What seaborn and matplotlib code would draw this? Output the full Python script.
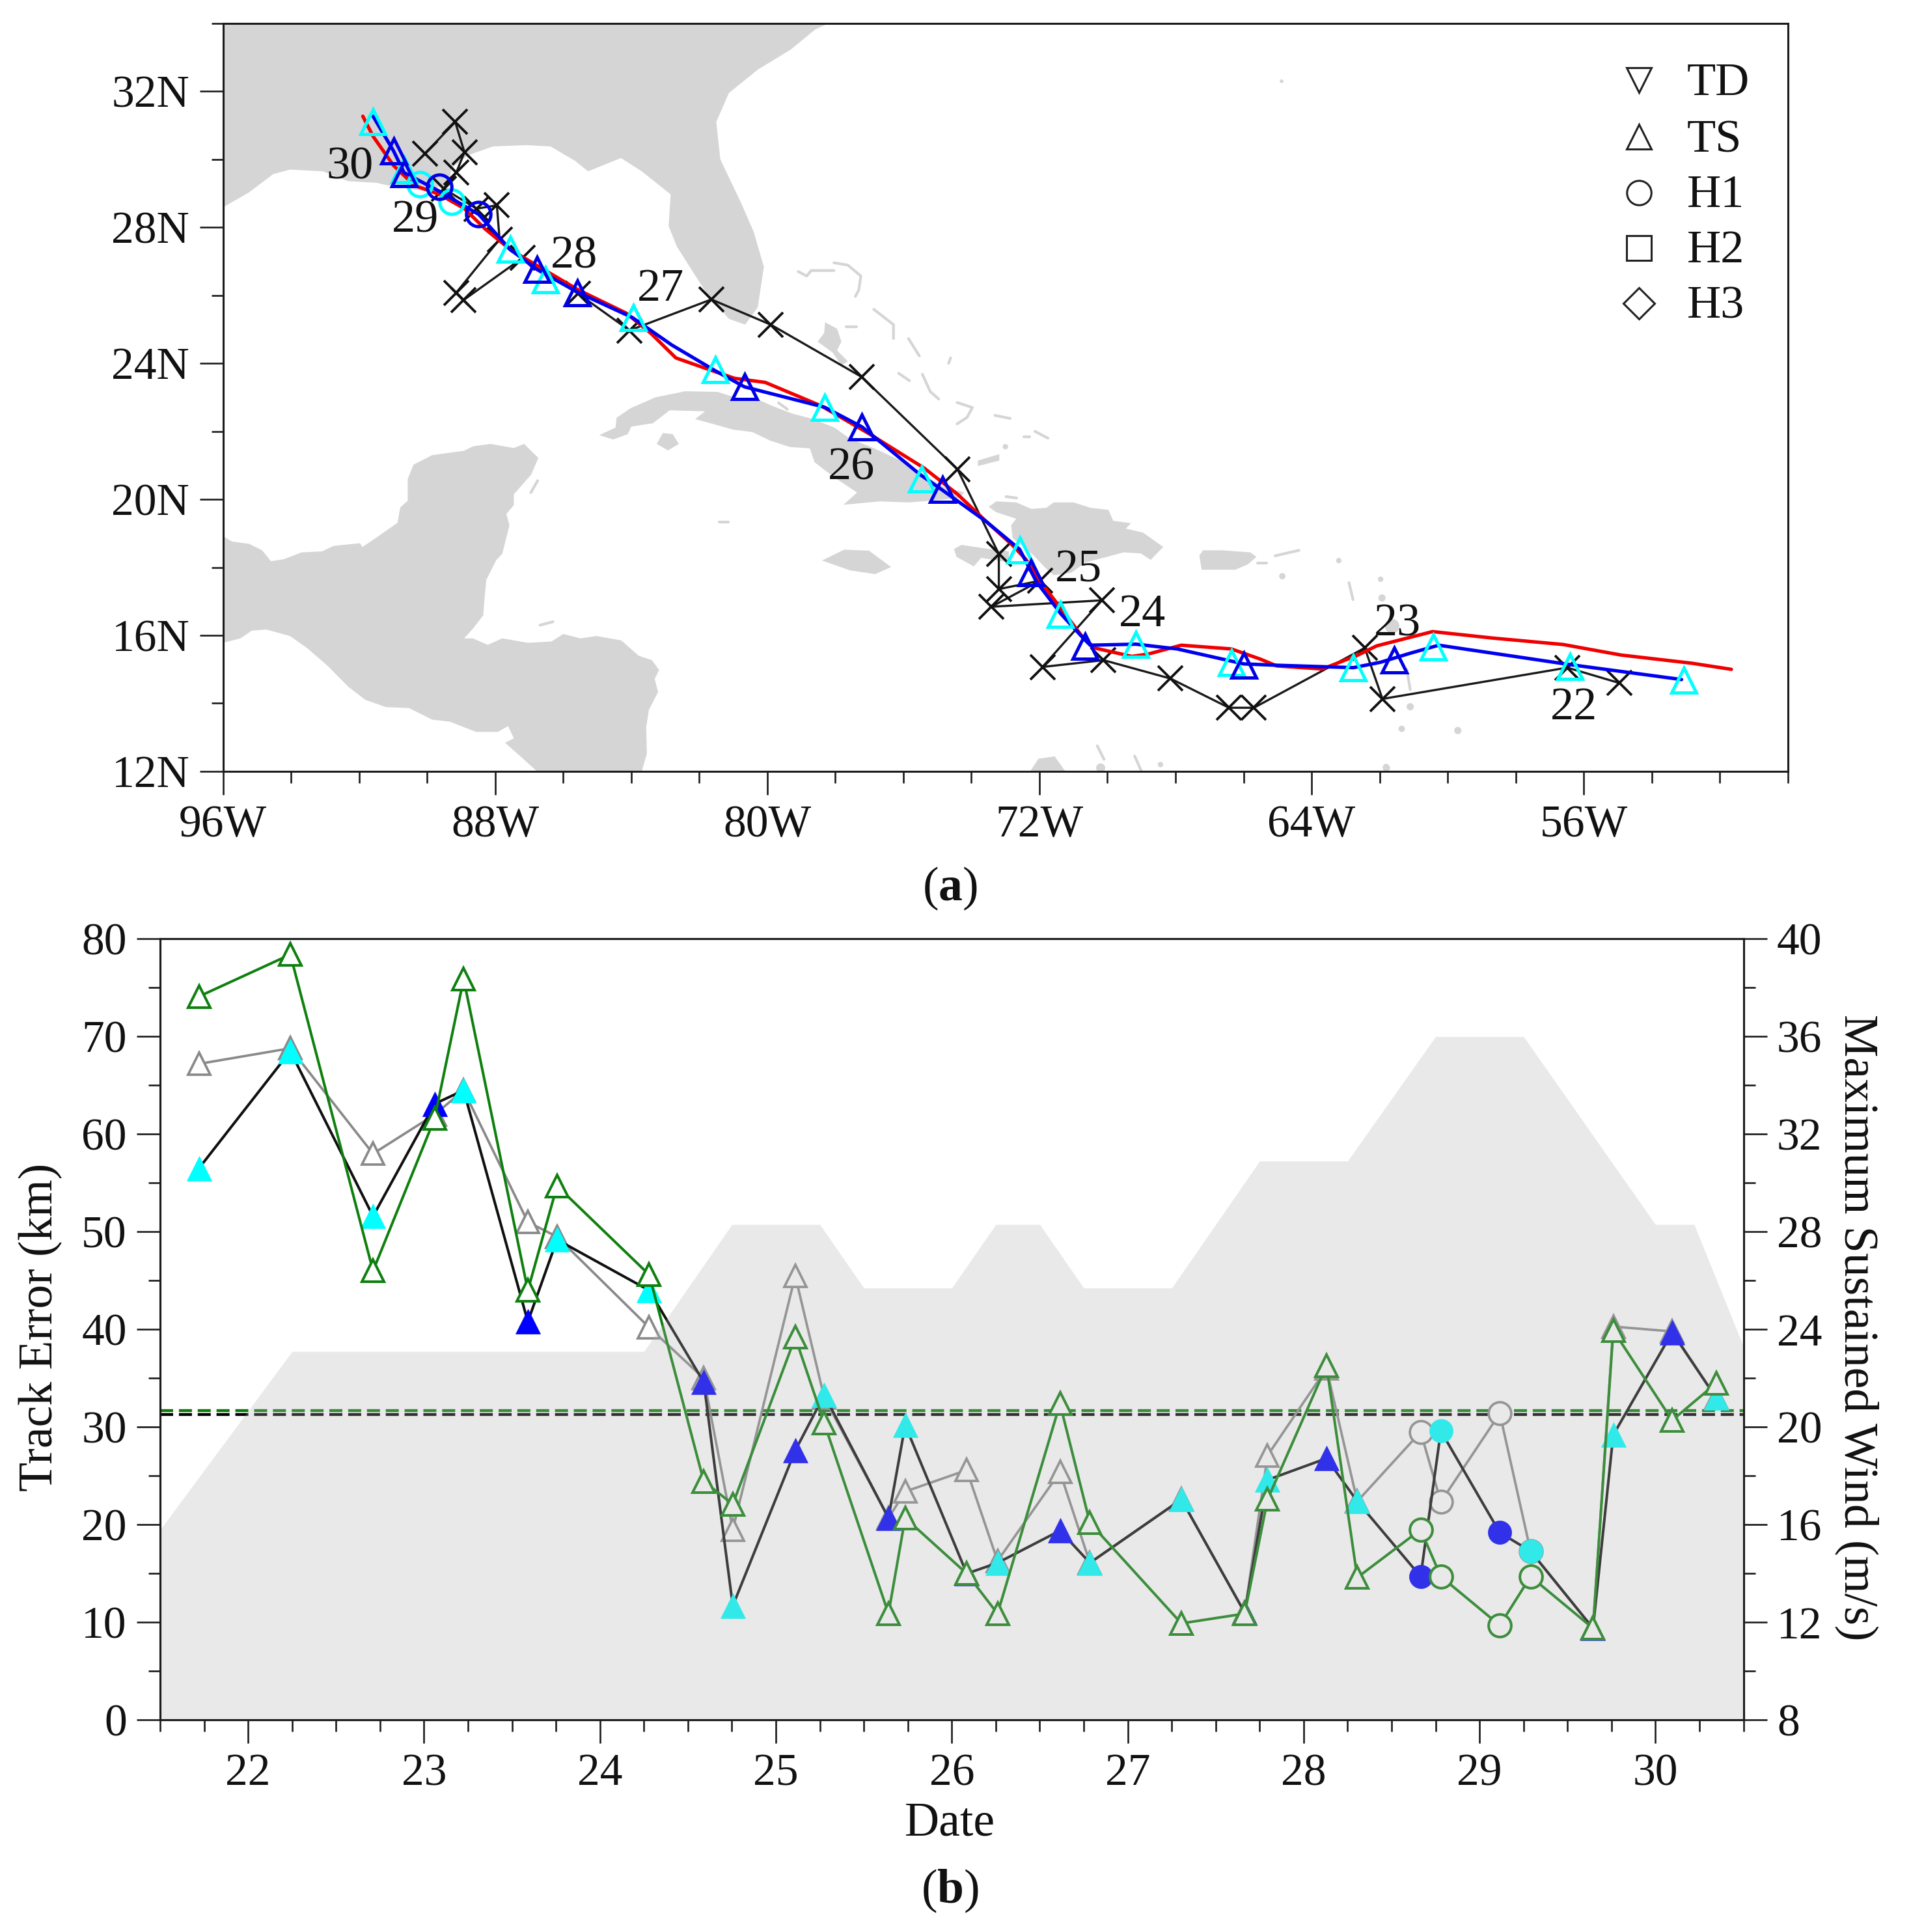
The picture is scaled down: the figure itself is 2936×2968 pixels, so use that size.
import numpy as np
import pandas as pd
import seaborn as sns
import matplotlib
matplotlib.use("Agg")
import matplotlib.pyplot as plt
from matplotlib.ticker import MultipleLocator, FixedLocator

sns.set_theme(style="ticks")
plt.rcParams["font.family"] = ["Liberation Serif", "DejaVu Serif"]
plt.rcParams["mathtext.fontset"] = "custom"
plt.rcParams["mathtext.rm"] = "Liberation Serif"
plt.rcParams["mathtext.bf"] = "Liberation Serif:bold"

# ---------- Panel (a): tracks (longitude in degrees west, latitude north) ----------
best_lon = [51.77, 52.93, 55.0, 56.7, 58.77, 60.53, 62.17, 62.72, 63.76, 65.1, 65.58, 66.43, 67.9, 68.87, 69.35,
            70.45, 70.8, 71.3, 72.03, 72.46, 72.88, 73.61, 74.46, 75.44, 77.02, 78.46, 80.1, 81.0, 81.87, 82.72,
            83.45, 84.18, 85.58, 86.73, 87.58, 88.31, 88.92, 89.65, 90.38, 91.0, 91.6, 91.9]
best_lat = [15.0, 15.18, 15.42, 15.73, 15.92, 16.11, 15.69, 15.42, 15.01, 15.1, 15.3, 15.6, 15.71, 15.45, 15.38,
            15.63, 15.96, 16.62, 17.58, 18.24, 18.68, 19.34, 20.15, 20.92, 21.91, 22.75, 23.44, 23.56, 23.86, 24.16,
            24.88, 25.48, 26.16, 26.84, 27.35, 27.95, 28.55, 28.97, 29.23, 29.82, 30.68, 31.27]
model_lon = [53.23, 56.58, 60.35, 61.2, 62.05, 62.85, 65.09, 66.07, 68.02, 69.23, 70.57, 70.75, 71.42, 72.15, 72.64,
             73.61, 74.93, 75.56, 77.26, 78.36, 80.71, 81.56, 82.84, 84.0, 85.58, 86.79, 87.58, 88.5, 89.65, 90.69,
             91.0, 91.6]
model_lat = [14.7, 15.15, 15.71, 15.47, 15.21, 15.05, 15.12, 15.16, 15.6, 15.74, 15.71, 15.89, 16.62, 17.58, 18.53,
             19.34, 20.29, 20.73, 22.13, 22.71, 23.31, 23.78, 24.54, 25.35, 26.08, 26.76, 27.35, 28.38, 29.06, 29.61,
             30.25, 31.27]
obs_lon = [55.06, 56.58, 62.0, 62.52, 65.77, 66.5, 68.22, 70.18, 71.97, 70.23, 73.47, 72.03, 73.25, 73.25, 74.46,
           77.27, 79.94, 81.68, 84.08, 85.6, 87.22, 88.95, 89.16, 87.89, 87.97, 88.56, 89.53, 89.16, 88.92, 89.19, 90.08]
obs_lat = [14.6, 15.05, 14.13, 15.63, 13.87, 13.87, 14.73, 15.27, 15.07, 17.03, 16.84, 17.61, 17.36, 18.39, 20.88,
           23.6, 25.14, 25.88, 24.97, 26.06, 27.1, 25.86, 26.08, 27.65, 28.65, 28.55, 29.14, 29.61, 30.21, 31.1, 30.17]

cyan_tri_lon = [53.17, 56.5, 60.51, 62.85, 66.43, 69.23, 71.45, 72.64, 75.52, 78.36, 81.56, 83.97, 86.55, 87.58, 90.69, 91.6]
cyan_tri_lat = [14.67, 15.08, 15.66, 15.05, 15.19, 15.74, 16.62, 18.5, 20.59, 22.71, 23.82, 25.35, 26.46, 27.35, 29.7, 31.1]
blue_tri_lon = [61.65, 66.07, 70.72, 72.31, 74.91, 77.26, 80.71, 85.61, 86.79, 90.69, 91.0]
blue_tri_lat = [15.27, 15.12, 15.67, 17.83, 20.29, 22.13, 23.31, 26.08, 26.76, 29.57, 30.25]
cyan_cir_lon = [89.29, 90.22]
cyan_cir_lat = [28.76, 29.27]
blue_cir_lon = [88.52, 89.65]
blue_cir_lat = [28.39, 29.19]

day_labels = ["22", "23", "24", "25", "26", "27", "28", "29", "30"]
day_lon = [56.28, 61.47, 68.97, 70.86, 77.52, 83.14, 85.67, 90.35, 92.27]
day_lat = [13.86, 16.32, 16.61, 17.91, 20.92, 26.18, 27.15, 28.2, 29.76]

legend_names = ["TD", "TS", "H1", "H2", "H3"]
legend_lat = [32.33, 30.66, 29.03, 27.4, 25.77]
legend_text_lat = [32.23, 30.56, 28.93, 27.3, 25.67]
legend_lon = 54.37
legend_text_lon = 52.96

# ---------- Land outlines (lon W, lat N) ----------
land_polys = [
    # North America
    ([96.0, 95.25, 94.52, 94.03, 93.06, 92.33, 91.48, 91.0, 90.0, 89.65, 89.4, 89.29, 88.8, 88.07, 87.1, 86.37, 85.64,
      85.27, 84.3, 83.69, 82.84, 82.9, 82.66, 82.23, 81.74, 81.13, 80.65, 80.28, 80.1, 80.4, 80.77, 81.38, 81.5, 81.13,
      80.28, 79.31, 78.58, 78.2, 96.0],
     [28.59, 29.02, 29.57, 29.7, 29.65, 29.36, 29.31, 29.2, 29.06, 29.2, 28.95, 29.74, 30.12, 30.38, 30.42, 30.38, 29.95,
      29.65, 30.04, 29.65, 28.97, 28.04, 27.44, 26.76, 26.0, 25.31, 25.14, 25.65, 26.84, 27.87, 28.72, 30.0, 31.1, 31.95,
      32.64, 33.23, 33.83, 34.0, 34.0]),
    # Mexico and Central America
    ([96.0, 95.74, 95.23, 94.85, 94.59, 94.21, 93.69, 93.09, 92.75, 91.98, 91.9, 91.47, 90.87, 90.79, 90.57, 90.57, 90.4,
      89.85, 88.91, 88.65, 88.14, 87.45, 87.15, 86.73, 86.94, 87.45, 87.45, 87.67, 87.58, 87.79, 87.97, 88.26, 88.31,
      88.35, 88.65, 88.91, 88.65, 88.22, 87.79, 87.03, 86.34, 86.0, 85.49, 85.02, 84.29, 83.78, 83.39, 83.18, 83.31,
      83.21, 83.48, 83.56, 83.54, 83.69, 86.77, 87.2, 87.71, 87.45, 87.62, 87.92, 88.56, 89.33, 89.85, 90.53, 91.21,
      91.81, 92.32, 92.92, 93.52, 94.03, 94.72, 95.15, 95.49, 96.0],
     [18.92, 18.76, 18.69, 18.5, 18.18, 18.24, 18.44, 18.47, 18.63, 18.71, 18.6, 18.89, 19.31, 19.76, 19.96, 20.6, 21.02,
      21.3, 21.43, 21.56, 21.63, 21.51, 21.63, 21.22, 20.73, 20.15, 19.83, 19.57, 19.24, 18.4, 18.21, 17.63, 17.11,
      16.59, 16.2, 15.91, 15.91, 15.72, 15.91, 15.78, 15.82, 16.04, 15.91, 15.98, 15.85, 15.4, 15.27, 14.98, 14.72,
      14.33, 13.81, 13.29, 12.52, 12.0, 12.0, 12.39, 12.84, 12.97, 13.33, 13.16, 13.16, 13.46, 13.52, 13.86, 13.89,
      14.1, 14.49, 15.1, 15.62, 15.98, 16.17, 16.14, 15.91, 15.78]),
    # Cuba
    ([84.94, 84.46, 84.43, 84.02, 83.29, 82.41, 81.46, 80.95, 80.22, 79.78, 79.26, 78.68, 78.02, 77.58, 76.85, 76.1,
      75.46, 74.87, 74.21, 74.36, 75.09, 75.82, 76.7, 77.76, 77.36, 78.02, 78.61, 78.75, 79.34, 79.92, 80.44, 81.0,
      81.53, 82.12, 81.83, 82.87, 83.36, 84.0, 84.1, 84.53],
     [21.89, 22.11, 22.4, 22.68, 23.0, 23.18, 23.16, 23.0, 22.91, 22.72, 22.52, 22.37, 22.11, 21.79, 21.5, 21.15,
      20.77, 20.39, 20.2, 20.04, 19.97, 19.91, 19.94, 19.84, 20.2, 20.64, 21.09, 21.5, 21.54, 21.73, 21.98, 22.05,
      22.2, 22.36, 22.59, 22.62, 22.24, 22.14, 21.92, 21.76]),
    ([83.25, 83.07, 82.78, 82.6, 82.92], [21.63, 21.95, 21.92, 21.63, 21.44]),
    # Jamaica
    ([78.39, 77.74, 77.01, 76.36, 76.83, 77.56], [18.2, 18.52, 18.49, 18.01, 17.8, 17.91]),
    # Hispaniola
    ([73.49, 73.27, 72.68, 72.24, 71.8, 71.58, 71.0, 70.49, 69.97, 69.83, 69.31, 69.46, 68.95, 68.36, 68.73, 69.02,
      69.53, 70.12, 70.63, 71.07, 71.58, 71.8, 72.17, 72.46, 72.79, 72.83, 72.68, 73.27],
     [19.78, 19.94, 19.91, 19.72, 19.75, 19.91, 19.91, 19.75, 19.69, 19.37, 19.3, 19.14, 19.02, 18.6, 18.22, 18.41,
      18.44, 18.28, 18.15, 17.84, 17.77, 17.96, 18.35, 18.6, 18.86, 19.24, 19.43, 19.62]),
    ([74.51, 74.29, 73.49, 72.9, 72.9, 73.71, 73.93, 74.44], [18.54, 18.66, 18.54, 18.47, 18.15, 18.28, 18.03, 18.31]),
    # Puerto Rico
    ([67.3, 67.19, 66.6, 65.8, 65.62, 65.87, 66.24, 67.23], [18.35, 18.5, 18.5, 18.44, 18.31, 18.09, 17.93, 17.93]),
    # Andros, Inagua, Guajira
    ([78.3, 77.95, 77.82, 77.95, 77.63, 77.82, 78.08, 78.52, 78.33],
     [25.21, 25.02, 24.64, 24.38, 24.06, 23.94, 24.32, 24.64, 24.89]),
    ([73.81, 73.18, 73.18, 73.81], [21.14, 21.33, 21.14, 20.98]),
    ([72.27, 72.03, 71.55, 71.24], [12.0, 12.37, 12.44, 12.0]),
]
island_chains = [
    ([79.09, 78.84, 78.71, 78.04], [26.7, 26.57, 26.73, 26.73]),
    ([78.04, 77.63, 77.25, 77.31, 77.41], [26.96, 26.89, 26.57, 26.16, 25.97]),
    ([76.87, 76.29, 76.29], [25.59, 25.14, 24.73]),
    ([77.69, 77.38], [25.08, 25.08]),
    ([75.85, 75.53], [24.73, 24.22]),
    ([74.61, 74.67], [24.16, 24.0]),
    ([76.14, 75.82], [23.71, 23.49]),
    ([75.44, 75.21, 74.96], [23.68, 23.17, 22.95]),
    ([74.42, 73.97, 74.13, 74.42], [22.85, 22.7, 22.41, 22.22]),
    ([73.31, 72.86], [22.47, 22.38]),
    ([72.45, 72.29], [21.84, 21.84]),
    ([72.13, 71.75], [22.0, 21.8]),
    ([72.98, 72.67], [20.08, 20.04]),
    ([61.2, 61.1], [15.0, 14.4]),
    ([62.9, 62.78], [17.55, 17.05]),
    ([70.3, 70.1], [12.75, 12.35]),
    ([69.2, 69.0], [12.45, 12.0]),
    ([86.75, 86.95], [20.55, 20.2]),
    ([86.68, 86.3], [16.3, 16.4]),
    ([79.67, 79.41], [22.84, 22.65]),
    ([65.58, 65.32], [18.12, 18.12]),
    ([65.07, 64.37], [18.34, 18.5]),
    ([81.42, 81.15], [19.33, 19.33]),
]
dot_lon = [61.63, 61.1, 61.35, 59.7, 61.81, 61.97, 63.2, 64.86, 61.93, 70.2, 68.44, 61.8, 64.88, 73.0]
dot_lat = [16.27, 13.9, 13.25, 13.2, 12.13, 17.65, 18.2, 17.74, 17.1, 12.1, 12.2, 12.1, 32.3, 21.55]
dot_size = [16, 8, 7, 8, 7, 6, 6, 7, 8, 10, 6, 8, 4, 6]

# ---------- Panel (b) ----------
date = [21.72, 22.24, 22.71, 23.06, 23.225, 23.59, 23.756, 24.28, 24.59, 24.755, 25.11, 25.275, 25.64, 25.735, 26.085,
        26.26, 26.615, 26.785, 27.305, 27.665, 27.795, 28.13, 28.305, 28.665, 28.78, 29.115, 29.29, 29.645, 29.76, 30.095,
        30.345]
err_black = [56.5, 68.5, 51.6, 63.1, 64.5, 40.8, 49.2, 44.0, 34.6, 11.7, 27.6, 33.3, 20.7, 30.2, 15.0,
             16.1, 19.4, 16.1, 22.6, 11.0, 24.6, 26.8, 22.4, 14.7, 29.6, 19.2, 17.3, 9.4, 29.2, 39.7, 33.0]
err_gray = [67.2, 68.8, 58.0, 62.0, 64.5, 51.0, 49.5, 40.2, 35.0, 19.5, 45.5, 33.0, 20.7, 23.4, 25.6,
            16.3, 25.4, 16.1, 22.6, 11.0, 27.1, 36.0, 22.4, 29.5, 22.35, 31.4, 17.3, 9.4, 40.3, 39.8, 33.0]
err_green = [74.1, 78.4, 46.0, 61.6, 75.9, 44.0, 54.7, 45.6, 24.45, 22.1, 39.2, 30.4, 10.9, 20.7, 15.0,
             10.9, 32.4, 20.2, 9.9, 10.9, 22.6, 36.3, 14.6, 19.5, 14.7, 9.7, 14.7, 9.4, 39.9, 30.7, 34.5]
is_hurricane = [False] * 23 + [True] * 4 + [False] * 4
blue_index = [3, 5, 8, 10, 12, 14, 16, 19, 21, 23, 25, 27, 29]
mean_black, mean_green = 31.3, 31.7

wind_date = [21.5, 22.25, 24.25, 24.75, 25.25, 25.5, 26.0, 26.25, 26.5, 26.75, 27.25, 27.75, 28.25, 28.75, 29.25, 30.0,
             30.22, 30.5]
wind_ms = [15.8, 23.1, 23.1, 28.3, 28.3, 25.7, 25.7, 28.3, 28.3, 25.7, 25.7, 30.9, 30.9, 36.0, 36.0, 28.3, 28.3, 23.3]

W, H = 1551.0, 1568.0
fig = plt.figure(figsize=(29.36, 29.68), dpi=100, facecolor="white")
ax_a = fig.add_axes([181 / W, 1 - 626 / H, 1270 / W, 607 / H])
ax_b = fig.add_axes([130 / W, 1 - 1396 / H, 1285 / W, 634 / H])
INK = "#1c1c1c"
TICK = 50
LABEL = 53


def line(ax, x, y, color, lw, z=2, **kw):
    d = pd.DataFrame({"x": x, "y": y})
    sns.lineplot(data=d, x="x", y="y", sort=False, estimator=None, errorbar=None, color=color,
                 linewidth=lw, ax=ax, zorder=z, legend=False, **kw)


def marks(ax, x, y, marker, size, edge, face, mew, z=3):
    d = pd.DataFrame({"x": x, "y": y})
    sns.lineplot(data=d, x="x", y="y", sort=False, estimator=None, errorbar=None, color=edge, linestyle="",
                 marker=marker, markersize=size, markerfacecolor=face, markeredgecolor=edge,
                 markeredgewidth=mew, ax=ax, zorder=z, legend=False)


def neg(v):
    return -np.asarray(v, dtype=float)


def track(v):
    # small reading calibration for the track longitudes
    v = np.asarray(v, dtype=float)
    return -(v - 0.0025 * (96 - v))


# ---------- draw (a) ----------
LAND = "#d5d5d5"
for lon, lat in land_polys:
    ax_a.fill(neg(lon), lat, color=LAND, lw=0, zorder=0)
for lon, lat in island_chains:
    line(ax_a, neg(lon), lat, LAND, 3.0, z=0.5)
d_land = pd.DataFrame({"x": neg(dot_lon), "y": dot_lat, "s": np.square(dot_size)})
sns.scatterplot(data=d_land, x="x", y="y", s=d_land["s"].values, color=LAND, linewidth=0, ax=ax_a, zorder=0.5, legend=False)

line(ax_a, track(obs_lon), obs_lat, "#1a1a1a", 2.4, z=2)
marks(ax_a, track(obs_lon), obs_lat, "x", 27, "#111111", "none", 2.8, z=2.2)
line(ax_a, track(best_lon), best_lat, "#f00000", 3.8, z=3)
line(ax_a, track(model_lon), model_lat, "#0000f0", 3.8, z=3.2)
marks(ax_a, track(cyan_tri_lon), cyan_tri_lat, "^", 28, "#00ffff", "none", 3.6, z=4)
marks(ax_a, track(blue_tri_lon), blue_tri_lat, "^", 28, "#0000e6", "none", 3.6, z=4.2)
marks(ax_a, track(cyan_cir_lon), cyan_cir_lat, "o", 27, "#00ffff", "none", 3.6, z=4)
marks(ax_a, track(blue_cir_lon), blue_cir_lat, "o", 27, "#0000e6", "none", 3.6, z=4.2)

for t, lo, la in zip(day_labels, day_lon, day_lat):
    ax_a.text(-lo, la, t, fontsize=52, ha="center", va="center", color="#111111", zorder=5)

for name, la, tla, mk, sz in zip(legend_names, legend_lat, legend_text_lat, ["v", "^", "o", "s", "D"], [27, 27, 27, 27, 24.5]):
    marks(ax_a, [-legend_lon], [la], mk, sz, "#222222", "none", 2.2, z=5)
    ax_a.text(-legend_text_lon, tla, name, fontsize=52, ha="left", va="center", color="#111111", zorder=5)

ax_a.set_xlim(-96, -50)
ax_a.set_ylim(12, 34)
ax_a.xaxis.set_major_locator(FixedLocator([-96, -88, -80, -72, -64, -56]))
ax_a.xaxis.set_minor_locator(MultipleLocator(2))
ax_a.yaxis.set_major_locator(FixedLocator([12, 16, 20, 24, 28, 32]))
ax_a.yaxis.set_minor_locator(MultipleLocator(2))
ax_a.set_xticklabels(["96W", "88W", "80W", "72W", "64W", "56W"])
ax_a.set_yticklabels(["12N", "16N", "20N", "24N", "28N", "32N"])
ax_a.set_xlabel("")
ax_a.set_ylabel("")

# ---------- draw (b) ----------
x = np.array(date)
line(ax_b, x, err_gray, "#8a8a8a", 2.7, z=2)
line(ax_b, x, err_black, "#101010", 2.9, z=3)
line(ax_b, x, err_green, "#0f800f", 2.9, z=4)

ax_b.axhline(mean_black, color="#000000", lw=3.2, ls=(0, (4.5, 2.0)), zorder=1.6)
ax_b.axhline(mean_green, color="#0a7a0a", lw=3.2, ls=(0, (4.5, 2.0)), zorder=1.7)

hur = np.array(is_hurricane)
blue_mask = np.zeros(len(x), dtype=bool)
blue_mask[blue_index] = True
g = np.array(err_gray)
k = np.array(err_black)
n = np.array(err_green)
marks(ax_b, x[~hur], g[~hur], "^", 25, "#8a8a8a", "white", 2.7, z=2.5)
marks(ax_b, x[hur], g[hur], "o", 25, "#8a8a8a", "white", 2.7, z=2.5)
marks(ax_b, x[~hur & blue_mask], k[~hur & blue_mask], "^", 27, "#0000ff", "#0000ff", 0.5, z=3.5)
marks(ax_b, x[~hur & ~blue_mask], k[~hur & ~blue_mask], "^", 27, "#00ffff", "#00ffff", 0.5, z=3.5)
marks(ax_b, x[hur & blue_mask], k[hur & blue_mask], "o", 26, "#0000ff", "#0000ff", 0.5, z=3.5)
marks(ax_b, x[hur & ~blue_mask], k[hur & ~blue_mask], "o", 26, "#00ffff", "#00ffff", 0.5, z=3.5)
marks(ax_b, x[~hur], n[~hur], "^", 25, "#0f800f", "white", 2.9, z=4.5)
marks(ax_b, x[hur], n[hur], "o", 25, "#0f800f", "white", 2.9, z=4.5)

ax_b.set_xlim(21.5, 30.5)
ax_b.set_ylim(0, 80)
ax_b.xaxis.set_major_locator(MultipleLocator(1))
ax_b.xaxis.set_minor_locator(MultipleLocator(0.25))
ax_b.yaxis.set_major_locator(MultipleLocator(10))
ax_b.yaxis.set_minor_locator(MultipleLocator(5))
ax_b.set_xlabel("Date", fontsize=LABEL, color="#111111", va="center")
ax_b.set_ylabel("Track Error (km)", fontsize=LABEL, color="#111111", va="center")
ax_b.xaxis.set_label_coords(0.499, -(1480 - 1396) / 634)
ax_b.yaxis.set_label_coords((33 - 130) / 1285, 0.503)

ax_w = ax_b.twinx()
ax_w.fill_between(wind_date, 8, wind_ms, color="#b2b2b2", alpha=0.28, lw=0, zorder=1)
ax_w.set_ylim(8, 40)
ax_w.yaxis.set_major_locator(MultipleLocator(4))
ax_w.yaxis.set_minor_locator(MultipleLocator(2))
ax_w.set_ylabel("Maximum Sustained Wind (m/s)", fontsize=LABEL, rotation=270, color="#111111", va="center")
ax_w.yaxis.set_label_coords((1507 - 130) / 1285, 0.503)

for ax in (ax_a, ax_b, ax_w):
    for s in ax.spines.values():
        s.set_visible(True)
        s.set_linewidth(2.2)
        s.set_color(INK)
    ax.tick_params(which="major", length=26, width=1.9, color=INK, labelsize=TICK, labelcolor="#111111", pad=11,
                   direction="out")
    ax.tick_params(which="minor", length=13, width=1.9, color=INK, direction="out")
    ax.grid(False)

fig.text(771 / W, 1 - 721 / H, r"($\mathbf{a}$)", fontsize=LABEL, ha="center", va="center", color="#111111")
fig.text(771 / W, 1 - 1535 / H, r"($\mathbf{b}$)", fontsize=LABEL, ha="center", va="center", color="#111111")

fig.savefig("out.png", dpi=100, facecolor="white")
